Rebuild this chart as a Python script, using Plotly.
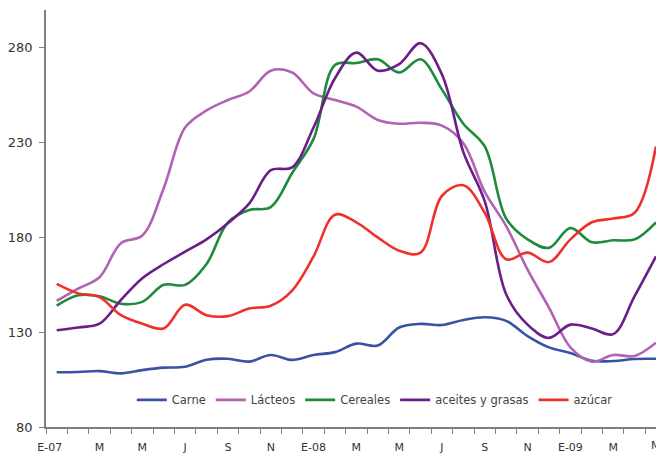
import plotly.graph_objects as go

months = list(range(29))
tick_pos = list(range(0, 27, 2))
tick_text = ["E-07\u00a0\u00a0\u00a0\u00a0", "M", "M", "J", "S", "N", "E-08", "M", "M", "J", "S", "N", "E-09", "M"]
last_tick_pos = 28
last_tick_text = "M"

carne = [108.9, 109.0, 109.5, 108.3, 110.0, 111.3, 111.8, 115.5, 116.0, 114.5,
         118.0, 115.4, 118.0, 119.5, 124.0, 123.0, 132.5, 134.4, 133.8, 136.5,
         137.9, 136.0, 128.0, 122.0, 119.0, 115.0, 114.8, 115.9, 116.0]
lacteos = [146.5, 153.0, 159.0, 177.0, 181.0, 206.0, 238.0, 247.0, 252.5, 257.0,
           268.0, 267.0, 256.0, 252.5, 249.0, 242.0, 240.0, 240.5, 239.0, 229.7,
           204.0, 186.0, 163.0, 143.0, 122.0, 114.5, 118.0, 117.5, 124.5]
cereales = [144.0, 149.5, 149.0, 145.0, 146.0, 155.0, 155.0, 166.0, 188.0, 194.5,
            196.0, 214.0, 232.0, 271.0, 272.0, 274.0, 267.0, 274.0, 258.0, 240.0,
            228.0, 190.0, 179.0, 174.5, 185.0, 177.5, 178.5, 179.0, 188.0]
aceites = [131.0, 132.5, 134.5, 147.0, 158.5, 166.0, 172.5, 179.0, 187.5, 198.0,
           215.5, 217.0, 238.0, 264.0, 277.5, 268.0, 271.5, 282.5, 266.0, 225.0,
           199.0, 150.0, 134.0, 127.0, 134.0, 132.0, 129.0, 149.0, 170.0]
azucar = [155.5, 150.5, 148.5, 139.0, 134.5, 132.0, 144.5, 139.0, 138.5, 142.5,
          144.0, 152.0, 170.0, 192.0, 188.0, 180.0, 173.0, 172.0, 202.0, 207.5,
          193.0, 168.5, 172.0, 167.0, 179.0, 188.0, 190.0, 193.0, 228.0]

series = [
    ("Carne", carne, "#3953a4"),
    ("Lácteos", lacteos, "#b262b4"),
    ("Cereales", cereales, "#1d8a3c"),
    ("aceites y grasas", aceites, "#6c1d88"),
    ("azúcar", azucar, "#f0302a"),
]

fig = go.Figure()
for name, vals, col in series:
    fig.add_trace(go.Scatter(
        x=months, y=vals, name=name, mode="lines",
        line=dict(color=col, width=2.6, shape="spline", smoothing=1.0),
    ))

axis_col = "#7f7f7f"
font_fam = "DejaVu Sans, Verdana, sans-serif"

# last (edge-cut) category label, drawn at its category position
fig.add_annotation(
    x=last_tick_pos, xref="x", y=0, yref="paper", yanchor="top",
    text=last_tick_text, showarrow=False, yshift=-10,
    font=dict(size=11, color="#333333", family=font_fam),
)

fig.update_layout(
    width=656, height=453,
    margin=dict(l=46, r=0, t=10, b=26),
    paper_bgcolor="white", plot_bgcolor="white",
    font=dict(family=font_fam, color="#333333"),
    showlegend=True,
    legend=dict(
        orientation="h", x=0.539, xanchor="center", y=0.065, yanchor="middle",
        font=dict(size=11.5, color="#444444"), bgcolor="rgba(0,0,0,0)",
        itemwidth=30, tracegroupgap=0,
    ),
    xaxis=dict(
        range=[-0.5, 28], tickmode="array", tickvals=tick_pos, ticktext=tick_text,
        ticks="", ticklabelstandoff=9, showline=True, linecolor=axis_col, linewidth=1.5,
        showgrid=False, zeroline=False, tickfont=dict(size=11, color="#333333"),
        minor=dict(ticks="outside", tick0=-0.5, dtick=1, ticklen=5,
                   tickcolor=axis_col, tickwidth=1, showgrid=False),
    ),
    yaxis=dict(
        range=[80, 300], tickmode="array", tickvals=[80, 130, 180, 230, 280],
        ticks="outside", ticklen=5, tickcolor=axis_col, tickwidth=1,
        ticklabelstandoff=4,
        showline=True, linecolor=axis_col, linewidth=1.5, showgrid=False,
        zeroline=False, tickfont=dict(size=13, color="#333333"),
    ),
)

fig.write_html(
    "out.html",
    config={"displayModeBar": False},
    post_script="document.body.style.margin='0';document.body.style.overflow='hidden';",
)
